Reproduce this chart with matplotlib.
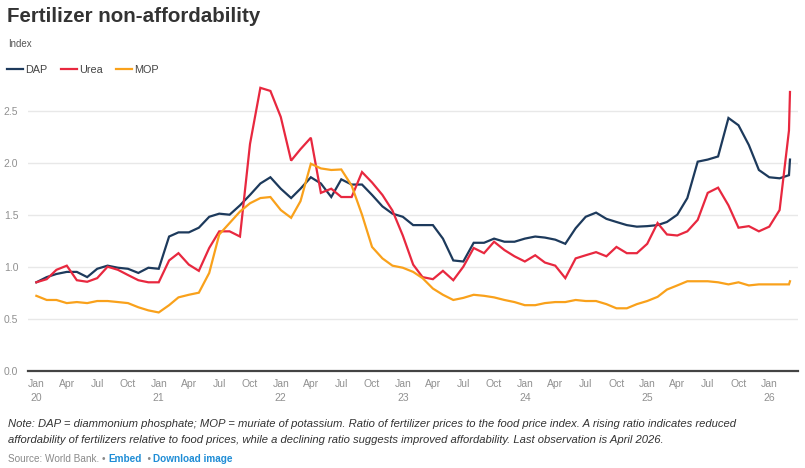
import numpy as np
import pandas as pd
import matplotlib
matplotlib.use("Agg")
import matplotlib.pyplot as plt
import matplotlib.dates as mdates

plt.rcParams['font.family'] = ['Liberation Sans', 'DejaVu Sans']

# -------------------------------
# DATA
# -------------------------------

# monthly Jan 2020 .. Mar 2026, plus the last (April 2026) observation,
# which the source plots right next to the March point
dates = list(pd.date_range("2020-01-01", "2026-03-01", freq="MS")) + [pd.Timestamp("2026-03-04")]

dap = [0.85, 0.90, 0.93, 0.95, 0.95, 0.90, 0.98, 1.01, 0.99, 0.98, 0.94, 0.99,
       0.98, 1.29, 1.33, 1.33, 1.375, 1.48, 1.51, 1.50, 1.59, 1.69, 1.80, 1.86,
       1.75, 1.66, 1.75, 1.86, 1.80, 1.67, 1.84, 1.79, 1.79, 1.69, 1.58, 1.51,
       1.48, 1.40, 1.40, 1.40, 1.27, 1.06, 1.05, 1.23, 1.23, 1.27, 1.24, 1.24,
       1.27, 1.29, 1.28, 1.26, 1.22, 1.37, 1.48, 1.52, 1.46, 1.43, 1.40, 1.385,
       1.39, 1.40, 1.43, 1.50, 1.66, 2.01, 2.03, 2.06, 2.43, 2.36, 2.17, 1.93,
       1.86, 1.85, 1.88, 2.03]

urea = [0.85, 0.88, 0.97, 1.01, 0.87, 0.855, 0.89, 1.00, 0.97, 0.92, 0.87, 0.85,
        0.85, 1.06, 1.13, 1.02, 0.96, 1.18, 1.34, 1.34, 1.29, 2.18, 2.72, 2.69,
        2.44, 2.02, 2.13, 2.24, 1.71, 1.75, 1.67, 1.67, 1.91, 1.81, 1.69, 1.54,
        1.30, 1.02, 0.90, 0.88, 0.96, 0.87, 1.00, 1.18, 1.13, 1.24, 1.16, 1.10,
        1.05, 1.11, 1.04, 1.01, 0.89, 1.08, 1.11, 1.14, 1.10, 1.19, 1.13, 1.13,
        1.22, 1.42, 1.31, 1.30, 1.34, 1.45, 1.71, 1.76, 1.59, 1.375, 1.39, 1.34,
        1.385, 1.545, 2.31, 2.68]

mop = [0.72, 0.68, 0.68, 0.65, 0.66, 0.65, 0.67, 0.67, 0.66, 0.65, 0.61, 0.58,
       0.56, 0.63, 0.705, 0.73, 0.75, 0.94, 1.31, 1.42, 1.53, 1.61, 1.66, 1.67,
       1.545, 1.47, 1.63, 1.99, 1.945, 1.93, 1.935, 1.78, 1.50, 1.19, 1.08, 1.01,
       0.99, 0.95, 0.89, 0.79, 0.73, 0.68, 0.70, 0.73, 0.72, 0.705, 0.68, 0.66,
       0.63, 0.63, 0.65, 0.66, 0.66, 0.68, 0.67, 0.67, 0.64, 0.60, 0.60, 0.64,
       0.67, 0.71, 0.78, 0.82, 0.86, 0.86, 0.86, 0.85, 0.83, 0.85, 0.82, 0.83,
       0.83, 0.83, 0.83, 0.86]

series_names = ["DAP", "Urea", "MOP"]
series_colors = ["#1d3a5c", "#e8283f", "#f9a11b"]
yticks = [0.0, 0.5, 1.0, 1.5, 2.0, 2.5]

# -------------------------------
# FIGURE
# -------------------------------

fig = plt.figure(figsize=(8.05, 4.68), dpi=100)
ax = fig.add_axes([28 / 805, 1 - 370.7 / 468, 770 / 805, 286 / 468])

for name, vals, col in zip(series_names, [dap, urea, mop], series_colors):
    ax.plot(dates, vals, color=col, lw=1.6, label=name, solid_joinstyle="miter")

ax.set_ylim(0, 2.75)
ax.set_xlim(pd.Timestamp("2019-12-07"), pd.Timestamp("2026-03-28"))
ax.set_yticks(yticks)
ax.set_yticklabels([f"{v:.1f}" for v in yticks])
ax.grid(axis="y", color="#e8e8e8", lw=1)
ax.set_axisbelow(True)

for s in ["top", "right", "left"]:
    ax.spines[s].set_visible(False)
ax.spines["bottom"].set_color("#444444")
ax.spines["bottom"].set_linewidth(1.6)

# quarterly ticks, year shown under January
ax.xaxis.set_major_locator(mdates.MonthLocator(bymonth=[1, 4, 7, 10]))
def fmt(x, pos):
    d = mdates.num2date(x)
    if d.month == 1:
        return d.strftime("%b") + "\n" + d.strftime("%y")
    return d.strftime("%b")
ax.xaxis.set_major_formatter(plt.FuncFormatter(fmt))
ax.tick_params(axis="both", length=0, labelsize=7.5, labelcolor="#909090")
ax.tick_params(axis="x", pad=6)
ax.tick_params(axis="y", pad=7)
for lab in ax.get_xticklabels():
    lab.set_linespacing(1.55)
    lab.set_verticalalignment("top")

# -------------------------------
# TEXTS
# -------------------------------

def px(x, y):
    return x / 805, 1 - y / 468

fig.text(*px(7, 16), "Fertilizer non-affordability", fontsize=14.8, fontweight="bold",
         color="#333333", va="center")
fig.text(*px(8, 44), "Index", fontsize=7, color="#555555", va="center")

leg = ax.legend(loc="upper left", bbox_to_anchor=px(7, 65), bbox_transform=fig.transFigure,
                ncol=3, frameon=False, fontsize=7.8, handlelength=1.5, handletextpad=0.2,
                columnspacing=1.2, borderaxespad=0, borderpad=0)
for t in leg.get_texts():
    t.set_color("#444444")

note = ("Note: DAP = diammonium phosphate; MOP = muriate of potassium. Ratio of fertilizer prices to the food price index. "
        "A rising ratio indicates reduced\naffordability of fertilizers relative to food prices, while a declining ratio "
        "suggests improved affordability. Last observation is April 2026.")
fig.text(*px(8, 419), note, fontsize=8.1, style="italic", color="#333333", va="top", linespacing=1.7)

src = fig.text(*px(8, 459), "Source: World Bank. \u2022 ", fontsize=7.2, color="#8a8a8a", va="center")
fig.canvas.draw()
bb = src.get_window_extent()
emb = fig.text(bb.x1 / fig.bbox.width, 1 - 459 / 468, "Embed", fontsize=7.2, color="#1f8dd6",
               fontweight="bold", va="center")
bb = emb.get_window_extent()
dot = fig.text(bb.x1 / fig.bbox.width, 1 - 459 / 468, "  \u2022 ", fontsize=7.2, color="#8a8a8a", va="center")
bb = dot.get_window_extent()
fig.text(bb.x1 / fig.bbox.width, 1 - 459 / 468, "Download image", fontsize=7.2, color="#1f8dd6",
         fontweight="bold", va="center")

fig.savefig("out.png", dpi=100)
